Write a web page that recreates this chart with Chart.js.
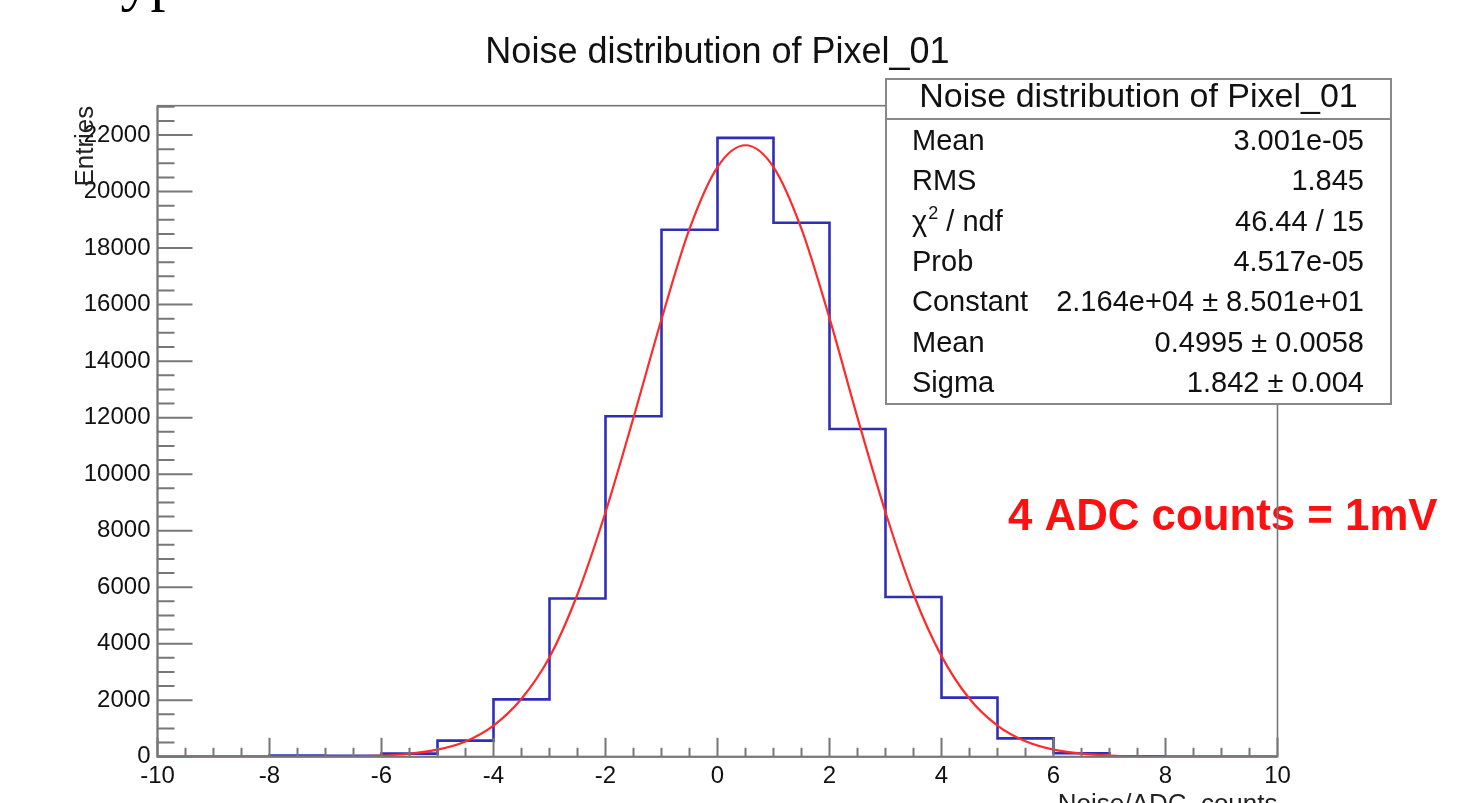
<!DOCTYPE html>
<html>
<head>
<meta charset="utf-8">
<script src="https://cdn.jsdelivr.net/npm/chart.js@4.4.1/dist/chart.umd.min.js"></script>
<style>
    html, body { margin: 0; padding: 0; background: #fff; }
    #wrap { width: 1475px; height: 803px; }
</style>
</head>
<body>
<div id="wrap"><canvas id="noise_chart" width="1475" height="803"></canvas></div>
<script>
// histogram: 20 bins of width 1 between -10 and 10 (low edge of each bin)
const binLow = [-10, -9, -8, -7, -6, -5, -4, -3, -2, -1, 0, 1, 2, 3, 4, 5, 6, 7, 8, 9]
const binCounts = [0, 0, 40, 30, 110, 570, 2030, 5600, 12050, 18650, 21900, 18900, 11600, 5650, 2090, 650, 120, 10, 0, 0]

// gaussian fit curve
const fitX = [-10, -8, -7, -6, -5.5, -5, -4.5, -4, -3.5, -3, -2.5, -2, -1.5, -1, -0.5, 0, 0.5, 1, 1.5, 2, 2.5, 3, 3.5, 4, 4.5, 5, 5.5, 6, 6.5, 7, 8, 10]
const fitY = [0, 1, 5, 40, 105, 250, 540, 1100, 2050, 3520, 5750, 8650, 12000, 15480, 18680, 20870, 21640, 20870, 18680, 15520, 12000, 8650, 5750, 3560, 2050, 1100, 545, 250, 107, 43, 5, 0]

const xTickVals = [-10, -8, -6, -4, -2, 0, 2, 4, 6, 8, 10]
const yTickVals = [0, 2000, 4000, 6000, 8000, 10000, 12000, 14000, 16000, 18000, 20000, 22000]

const titleText = 'Noise distribution of Pixel_01'
const statLabels = ['Mean', 'RMS', 'chi2', 'Prob', 'Constant', 'Mean', 'Sigma']
const statValues = ['3.001e-05', '1.845', '46.44 / 15', '4.517e-05', '2.164e+04 \u00b1 8.501e+01', '0.4995 \u00b1 0.0058', '1.842 \u00b1 0.004']

const FONT = "'Liberation Sans', Arial, sans-serif"

function histPoints() {
    // extra point at x = 10 closes the last bin
    let pts = binLow.map((x, i) => ({x: x, y: binCounts[i]}))
    pts.push({x: 10, y: binCounts[binCounts.length - 1]})
    return pts
}

// ROOT like decorations: frame, inner ticks, titles, stats box
const rootDecor = {
    id: 'rootDecor',
    afterDraw(chart) {
        const ctx = chart.ctx
        const xs = chart.scales.x
        const ys = chart.scales.y
        const area = chart.chartArea
        ctx.save()

        // cut off heading of the slide above the plot
        ctx.fillStyle = '#000'
        ctx.font = "60px 'Liberation Serif', serif"
        ctx.textAlign = 'left'
        ctx.textBaseline = 'alphabetic'
        ctx.fillText('Typical', 88, -1)

        // title
        ctx.font = '36px ' + FONT
        ctx.textAlign = 'center'
        ctx.fillStyle = '#111'
        ctx.fillText(titleText, (area.left + area.right) / 2, 63)

        // red note
        ctx.fillStyle = '#ff1010'
        ctx.font = 'bold 40px ' + FONT
        ctx.textAlign = 'left'
        let note = '4 ADC counts = 1mV'
        let w = ctx.measureText(note).width
        let size = 40 * 430 / w
        ctx.font = 'bold ' + size.toFixed(1) + 'px ' + FONT
        ctx.textBaseline = 'middle'
        ctx.fillText(note, 1008, 518)

        // frame
        ctx.strokeStyle = '#777'
        ctx.lineWidth = 1.6
        ctx.strokeRect(area.left, area.top, area.right - area.left, area.bottom - area.top)
        ctx.lineWidth = 2
        ctx.beginPath()
        ctx.moveTo(area.left, area.top)
        ctx.lineTo(area.left, area.bottom)
        ctx.lineTo(area.right, area.bottom)
        ctx.stroke()

        // x ticks, major every 2, minor every 0.5
        ctx.beginPath()
        for (let v = -10; v <= 10.001; v += 0.5) {
            let px = xs.getPixelForValue(v)
            let len = (Math.abs(v % 2) < 0.001) ? 19 : 9
            ctx.moveTo(px, area.bottom)
            ctx.lineTo(px, area.bottom - len)
        }
        // y ticks, major every 2000, minor every 500
        for (let v = 0; v <= ys.max; v += 500) {
            let py = ys.getPixelForValue(v)
            let len = (v % 2000 === 0) ? 35 : 17
            ctx.moveTo(area.left, py)
            ctx.lineTo(area.left + len, py)
        }
        ctx.stroke()

        // axis titles
        ctx.fillStyle = '#222'
        ctx.font = '26px ' + FONT
        ctx.textAlign = 'right'
        ctx.textBaseline = 'alphabetic'
        ctx.fillText('Noise/ADC_counts', area.right, 812)

        ctx.save()
        ctx.translate(93, area.top)
        ctx.rotate(-Math.PI / 2)
        ctx.fillText('Entries', 0, 0)
        ctx.restore()

        // stats box
        const bx = 886, by = 79, bw = 505, bh = 325
        ctx.fillStyle = '#fff'
        ctx.fillRect(bx, by, bw, bh)
        ctx.strokeStyle = '#888'
        ctx.lineWidth = 2
        ctx.strokeRect(bx, by, bw, bh)
        ctx.beginPath()
        ctx.moveTo(bx, 119)
        ctx.lineTo(bx + bw, 119)
        ctx.stroke()

        ctx.fillStyle = '#111'
        ctx.font = '34px ' + FONT
        ctx.textAlign = 'center'
        ctx.fillText(titleText, bx + bw / 2, 107)

        const rowBase = [150, 190.3, 230.6, 271, 311.3, 351.6, 392]
        ctx.font = '29px ' + FONT
        for (let i = 0; i < statLabels.length; i++) {
            let yb = rowBase[i]
            ctx.textAlign = 'left'
            if (statLabels[i] === 'chi2') {
                ctx.fillText('\u03c7', 912, yb)
                let cw = ctx.measureText('\u03c7').width
                ctx.font = '18px ' + FONT
                ctx.fillText('2', 912 + cw + 1, yb - 12)
                ctx.font = '29px ' + FONT
                ctx.fillText(' / ndf', 912 + cw + 11, yb)
            } else {
                ctx.fillText(statLabels[i], 912, yb)
            }
            ctx.textAlign = 'right'
            ctx.fillText(statValues[i], 1364, yb)
        }

        ctx.restore()
    }
}

const ctx = document.getElementById('noise_chart')
const chartObj = new Chart(ctx, {
    type: 'line',
    data: {
        datasets: [
            {
                label: 'gaus fit',
                data: fitX.map((x, i) => ({x: x, y: fitY[i]})),
                borderColor: '#ff2a2a',
                borderWidth: 2.2,
                pointRadius: 0,
                fill: false,
                cubicInterpolationMode: 'monotone',
                order: 0
            },
            {
                label: 'Pixel_01',
                data: histPoints(),
                borderColor: '#2e2eb8',
                borderWidth: 2.6,
                pointRadius: 0,
                fill: false,
                stepped: 'before',
                order: 1
            }
        ]
    },
    options: {
        responsive: false,
        animation: false,
        devicePixelRatio: 1,
        layout: {padding: {left: 0, top: 105.7, right: 197.5, bottom: 0}},
        plugins: {
            legend: {display: false},
            tooltip: {enabled: false},
            title: {display: false}
        },
        scales: {
            x: {
                type: 'linear',
                min: -10,
                max: 10,
                grid: {display: false, drawTicks: false},
                border: {display: false},
                ticks: {
                    autoSkip: false,
                    maxRotation: 0,
                    padding: 5,
                    color: '#111',
                    font: {family: FONT, size: 24},
                    callback: v => String(v)
                },
                afterBuildTicks: s => { s.ticks = xTickVals.map(v => ({value: v})) },
                afterFit: s => { s.height = 46.3 }
            },
            y: {
                min: 0,
                max: 23040,
                grid: {display: false, drawTicks: false},
                border: {display: false},
                ticks: {
                    autoSkip: false,
                    padding: 7,
                    color: '#111',
                    font: {family: FONT, size: 24},
                    callback: v => String(v)
                },
                afterBuildTicks: s => { s.ticks = yTickVals.map(v => ({value: v})) },
                afterFit: s => { s.width = 157.5 }
            }
        }
    },
    plugins: [rootDecor]
});
</script>
</body>
</html>
